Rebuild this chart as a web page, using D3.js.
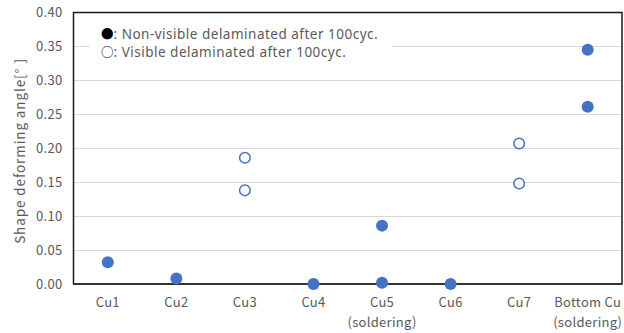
<!DOCTYPE html>
<html>
<head>
<meta charset="utf-8">
<script src="https://cdn.jsdelivr.net/npm/d3@7"></script>
<style>
  html, body { margin: 0; padding: 0; background: #fff; }
  svg { display: block; }
  text { font-family: "Noto Sans CJK JP", "Noto Sans", sans-serif; }
</style>
</head>
<body>
<svg id="chart" width="624" height="333"></svg>
<script>
// Sample categories (second line of a label is shown below the first)
const categories = ["Cu1", "Cu2", "Cu3", "Cu4", "Cu5", "Cu6", "Cu7", "Bottom Cu"];
const categoryNotes = ["", "", "", "", "(soldering)", "", "", "(soldering)"];

// Filled markers: no visible delamination after 100 cycles
const nonVisible = [
  { cat: "Cu1", value: 0.032 },
  { cat: "Cu2", value: 0.008 },
  { cat: "Cu4", value: 0.000 },
  { cat: "Cu5", value: 0.086 },
  { cat: "Cu5", value: 0.002 },
  { cat: "Cu6", value: 0.000 },
  { cat: "Bottom Cu", value: 0.345 },
  { cat: "Bottom Cu", value: 0.261 }
];

// Hollow markers: visible delamination after 100 cycles
const visible = [
  { cat: "Cu3", value: 0.186 },
  { cat: "Cu3", value: 0.138 },
  { cat: "Cu7", value: 0.207 },
  { cat: "Cu7", value: 0.148 }
];

const yTicks = [0, 0.05, 0.10, 0.15, 0.20, 0.25, 0.30, 0.35, 0.40];
const yLabel = "Shape deforming angle[°  ]";
const legendItems = [
  { symbol: "●", text: ": Non-visible delaminated after 100cyc." },
  { symbol: "○", text: ": Visible delaminated after 100cyc." }
];

const svg = d3.select("#chart");
const margin = { left: 73.5, right: 2, top: 12.5, bottom: 49 };
const W = 624, H = 333;
const x0 = margin.left, x1 = W - margin.right;
const y0 = H - margin.bottom, y1 = margin.top;

const x = d3.scaleBand().domain(categories).range([x0, x1]);
const y = d3.scaleLinear().domain([0, 0.40]).range([y0, y1]);
const blue = "#4472C4";
const textColor = "#595959";

// Horizontal gridlines
svg.append("g")
  .selectAll("line")
  .data(yTicks.filter(d => d > 0 && d < 0.40))
  .join("line")
  .attr("x1", x0).attr("x2", x1)
  .attr("y1", d => Math.round(y(d)) + 0.5).attr("y2", d => Math.round(y(d)) + 0.5)
  .attr("stroke", "#d9d9d9").attr("stroke-width", 1);

// Y axis labels
const yAxis = d3.axisLeft(y).tickValues(yTicks).tickFormat(d3.format(".2f")).tickSize(0).tickPadding(11);
const gy = svg.append("g").attr("transform", `translate(${x0},0)`).call(yAxis);
gy.select(".domain").remove();
gy.selectAll("text")
  .attr("fill", textColor)
  .style("font-size", "13px")
  .style("letter-spacing", "0.3px");

// X axis labels
const xAxis = d3.axisBottom(x).tickSize(0).tickPadding(14);
const gx = svg.append("g").attr("transform", `translate(0,${y0})`).call(xAxis);
gx.select(".domain").remove();
gx.selectAll("text")
  .attr("fill", textColor)
  .style("font-size", "13px")
  .style("letter-spacing", "0.3px");
gx.selectAll(".tick")
  .append("text")
  .attr("fill", textColor)
  .attr("y", 34)
  .attr("dy", "0.71em")
  .attr("text-anchor", "middle")
  .style("font-size", "13px")
  .style("letter-spacing", "0.3px")
  .text((d, i) => categoryNotes[i]);

// Legend panel, drawn over the gridlines
const legend = svg.append("g");
legend.append("rect")
  .attr("x", 90).attr("y", 21).attr("width", 302).attr("height", 38)
  .attr("fill", "#fff");
legendItems.forEach((item, i) => {
  const t = legend.append("text")
    .attr("x", 101).attr("y", 38.5 + i * 18.5)
    .style("font-family", "'Noto Sans', sans-serif")
    .style("font-size", "13.5px");
  t.append("tspan").attr("fill", "#000")
    .style("font-family", "'Noto Sans CJK JP', sans-serif")
    .style("font-size", "12.5px")
    .text(item.symbol);
  t.append("tspan").attr("fill", textColor).style("letter-spacing", "0.5px").text(item.text);
});

// Plot frame
svg.append("rect")
  .attr("x", x0).attr("y", y1).attr("width", x1 - x0).attr("height", y0 - y1)
  .attr("fill", "none").attr("stroke", "#1a1a1a").attr("stroke-width", 1.5);
svg.append("line")
  .attr("x1", x0).attr("x2", x1).attr("y1", y0).attr("y2", y0)
  .attr("stroke", "#333").attr("stroke-width", 2);

// Markers
const cx = d => x(d.cat) + x.bandwidth() / 2;
svg.append("g")
  .selectAll("circle")
  .data(nonVisible)
  .join("circle")
  .attr("cx", cx).attr("cy", d => y(d.value)).attr("r", 6)
  .attr("fill", blue);
svg.append("g")
  .selectAll("circle")
  .data(visible)
  .join("circle")
  .attr("cx", cx).attr("cy", d => y(d.value)).attr("r", 5.3)
  .attr("fill", "#fff").attr("stroke", blue).attr("stroke-width", 1.5);

// Y axis title
svg.append("text")
  .attr("transform", `translate(20,151) rotate(-90)`)
  .attr("dy", "0.35em")
  .attr("text-anchor", "middle")
  .attr("fill", textColor)
  .style("font-size", "13.5px")
  .style("letter-spacing", "0.9px")
  .text(yLabel);
</script>
</body>
</html>
